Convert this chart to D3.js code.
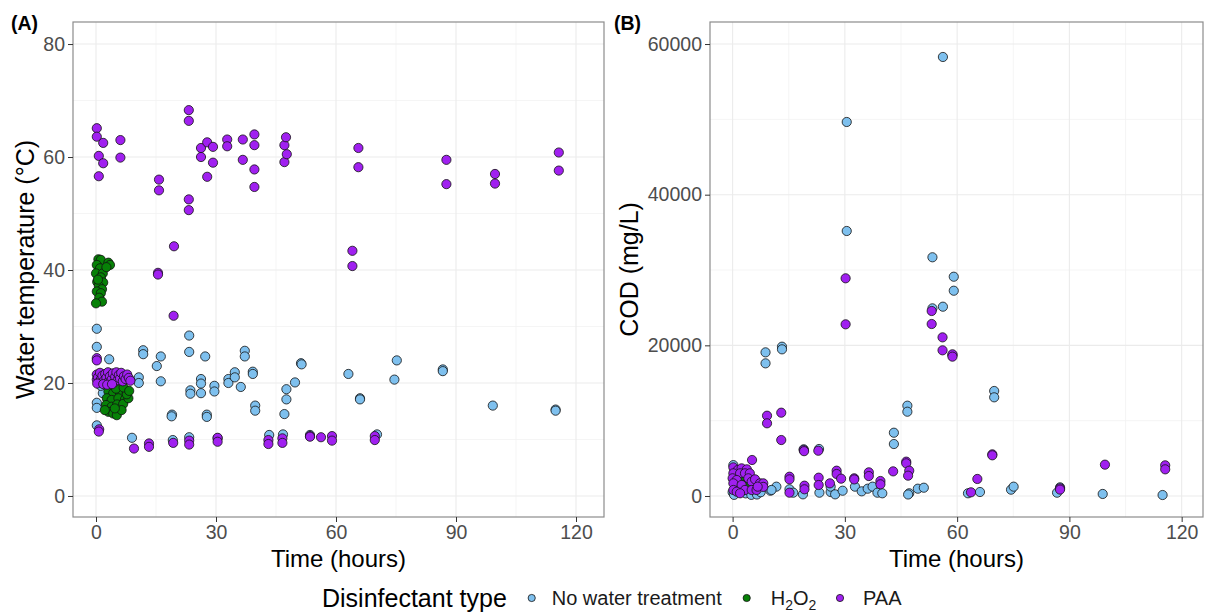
<!DOCTYPE html>
<html>
<head>
<meta charset="utf-8">
<script src="https://cdn.jsdelivr.net/npm/d3@7"></script>
<style>
  body { margin: 0; background: #fff; }
  svg { font-family: "Liberation Sans", Arial, sans-serif; }
</style>
</head>
<body>
<div id="chart"></div>
<script>
// series names + colours
const groups = ["No water treatment", "H2O2", "PAA"];
const colors = ["#7EC0EE", "#078107", "#A020F0"];

// x ticks shared by both panels
const hourTicks = [0, 30, 60, 90, 120];
const tempTicks = [0, 20, 40, 60, 80];
const codTicks = [0, 20000, 40000, 60000];

// (A) water temperature, [hours, degC]
const tempNone = [
  [0.2, 29.6], [0.2, 26.4], [3.3, 24.2], [0.2, 16.5], [0.2, 15.6], [0.2, 12.5], [1.7, 18.2], [1.2, 19.5],
  [2.5, 20.0], [0.5, 20.8], [9, 10.3], [10.7, 21.0], [10.7, 20.0], [11.8, 25.8], [11.8, 25.1], [15.2, 23.0],
  [16.2, 24.7], [16.2, 20.3], [19.0, 14.4], [18.9, 14.1], [19.2, 9.9], [23.3, 28.4], [23.3, 25.5], [23.3, 10.4],
  [23.6, 18.7], [23.6, 18.1], [26.25, 20.7], [26.25, 19.9], [26.25, 18.2], [27.3, 24.7], [27.7, 14.4], [27.7, 14.0],
  [29.6, 19.5], [29.6, 18.5], [30.4, 10.2], [33.1, 20.7], [33.1, 20.0], [34.7, 21.9], [34.7, 21.0], [36.2, 19.3],
  [37.2, 25.7], [37.2, 24.7], [39.2, 22.0], [39.2, 21.6], [39.8, 16.0], [39.8, 15.1], [43.3, 10.8], [46.75, 10.9],
  [47.1, 14.5], [47.6, 18.9], [47.6, 17.1], [49.75, 20.1], [51.25, 23.5], [51.4, 23.3], [53.5, 10.8], [63.1, 21.6],
  [66, 17.3], [66, 17.1], [70.25, 10.9], [74.6, 20.6], [75.2, 24.0], [86.7, 22.4], [86.7, 22.1], [99.2, 16.0],
  [114.9, 15.3], [114.9, 15.1]
];
const tempH2O2 = [
  [0.6, 41.9], [1.2, 41.8], [3.1, 41.3], [3.5, 40.9], [0.2, 40.9], [1.0, 40.3], [0.0, 39.4], [1.7, 39.4],
  [1.2, 38.7], [0.3, 37.9], [1.8, 37.8], [0.7, 37.2], [1.5, 36.6], [0.2, 36.2], [1.2, 35.9], [0.8, 35.1],
  [1.5, 34.4], [0.0, 34.1], [2.6, 40.5], [0.5, 38.3],
  [3.1, 18.5], [4.3, 18.2], [6.0, 18.3], [7.7, 18.2], [2.7, 17.3], [3.9, 17.0], [5.6, 17.3], [7.25, 17.1],
  [2.5, 16.1], [3.9, 15.8], [5.3, 16.2], [6.8, 16.3], [8.1, 17.3], [3.1, 14.9], [4.3, 14.6], [5.2, 14.3],
  [6.4, 15.2], [7.7, 18.0], [5.0, 19.0], [6.9, 19.2], [8.3, 18.6], [4.7, 15.5], [2.2, 15.2]
];
const tempPAA = [
  [0.2, 65.1], [0.2, 63.6], [1.8, 62.5], [0.7, 60.2], [1.8, 58.9], [0.7, 56.6], [6.1, 63.0], [6.1, 59.9],
  [15.75, 56.0], [15.75, 54.1], [23.2, 68.3], [23.2, 66.4], [23.2, 52.5], [23.2, 50.6], [19.5, 44.2], [26.25, 61.6],
  [26.25, 60.0], [27.8, 62.6], [27.8, 56.5], [29.25, 61.8], [29.25, 59.0], [32.8, 63.1], [32.8, 61.9], [36.7, 63.1],
  [36.7, 59.5], [39.6, 64.0], [39.6, 62.1], [39.6, 57.8], [39.6, 54.7], [47.1, 62.1], [47.1, 59.1], [47.5, 63.5],
  [47.7, 60.5], [65.6, 61.6], [65.6, 58.2], [87.6, 59.5], [87.6, 55.2], [99.75, 57.0], [99.75, 55.3], [115.7, 60.8],
  [115.7, 57.6], [15.5, 39.5], [15.5, 39.2], [19.4, 31.9], [64.1, 43.4], [64.1, 40.7], [0.2, 24.4], [0.2, 24.0],
  [0.8, 11.8], [0.7, 11.4],
  [0.2, 21.5], [0.2, 20.6], [0.5, 21.0], [0.8, 20.2], [1.0, 21.8], [1.3, 20.7], [1.6, 21.3], [2.0, 20.4],
  [2.3, 21.6], [2.6, 20.9], [3.0, 21.9], [3.2, 20.3], [3.5, 21.2], [3.9, 20.6], [4.2, 21.7], [4.5, 20.1],
  [4.8, 21.1], [5.1, 21.9], [5.4, 20.5], [5.7, 21.4], [6.0, 20.8], [6.3, 21.8], [6.7, 20.3], [7.0, 21.2],
  [7.4, 20.7], [7.8, 21.5], [8.2, 20.9], [8.6, 20.4], [0.3, 19.9], [1.8, 19.8], [2.8, 19.7], [4.0, 19.8],
  [9.5, 8.4], [13.25, 9.3], [13.25, 8.7], [19.3, 9.4], [23.3, 9.8], [23.3, 9.1], [30.4, 10.3], [30.4, 9.6],
  [43.1, 9.9], [43.1, 9.2], [46.6, 10.2], [46.6, 9.4], [53.5, 10.6], [53.5, 10.5], [56.25, 10.4], [59, 10.6],
  [59, 9.8], [69.7, 10.6], [69.7, 9.9]
];

// (B) COD, [hours, mg/L]
const codNone = [
  [56.2, 58280], [30.5, 49650], [30.5, 35180], [53.4, 31690], [59.1, 29110], [59.1, 27250], [53.4, 24910], [56.2, 25130],
  [58.75, 18700], [8.8, 19070], [8.8, 17610], [13.2, 19820], [13.2, 19470], [69.9, 13940], [69.9, 13100], [46.7, 11990],
  [46.7, 11190], [43.1, 8400], [43.1, 6900], [23.1, 6240], [19, 6200],
  [10.1, 700], [11.7, 1240], [10.4, 800], [15.2, 890], [16.2, 440], [18.8, 220], [23.2, 440], [26.2, 530],
  [26.2, 1240], [27.4, 220], [29.4, 700], [32.7, 1240], [34.5, 620], [36.1, 970], [37.4, 1240], [38.7, 440],
  [40, 360], [47.2, 360], [46.9, 200], [49.5, 970], [51.1, 1100], [62.9, 360], [66.1, 530], [74.4, 840],
  [75.1, 1240], [86.7, 440], [87.5, 1150], [98.9, 270], [114.9, 130],
  [0.2, 4100], [0, 500], [0.5, 3300], [1.5, 2600], [2.5, 1200], [0.4, 150], [3.5, 350], [5, 150],
  [6.5, 200], [7.5, 500], [1, 900]
];
const codH2O2 = [
  [1.5, 2000], [2.0, 1700], [2.5, 2200], [3.3, 2100], [1.0, 1500], [3.0, 1800], [2.2, 2500], [4, 1600]
];
const codPAA = [
  [30.2, 28900], [53.2, 24560], [53.2, 22830], [30.2, 22790], [56.1, 21060], [56.1, 19340], [58.75, 18810], [58.75, 18500],
  [9.2, 10660], [9.2, 9650], [13, 11060], [13, 7430], [22.9, 6010], [19, 6100], [19.1, 5950], [69.4, 5530],
  [69.4, 5400], [99.5, 4160], [115.6, 4070], [115.6, 3540], [46.4, 4560], [46.4, 4340], [47.2, 3360], [46.9, 2700],
  [42.9, 3270], [65.4, 2260], [27.8, 3360], [27.8, 2920], [29, 2300], [32.5, 2350], [32.5, 2200], [36.4, 3140],
  [36.4, 2650], [39.5, 1990], [39.5, 1550], [23, 2430], [23, 1460], [26, 1680], [19.2, 1370], [19.2, 890],
  [15.2, 2560], [15.2, 2210], [15.2, 440], [5.2, 4780], [87.5, 1020], [87.5, 850], [63.7, 490],
  [0.2, 3800], [1.4, 3450], [2.4, 3670], [3.8, 3540], [0.2, 3010], [2, 3010], [3.3, 3010], [4.6, 3010],
  [0, 2350], [1.1, 2120], [4.2, 2350], [5.1, 1900], [6, 2210], [0.2, 1680], [2.4, 1460], [3.3, 800],
  [5.1, 800], [6.4, 800], [7.3, 1680], [8.2, 1680], [0.2, 800], [1.1, 570], [8.2, 1210], [6.7, 1240],
  [2, 360]
];

const W = 1206, H = 613;

const svg = d3.select("#chart").append("svg")
  .attr("width", W).attr("height", H);

function drawPanel(p) {
  const x = d3.scaleLinear().domain(p.xDomain).range([p.left, p.right]);
  const y = d3.scaleLinear().domain(p.yDomain).range([p.bottom, p.top]);
  const g = svg.append("g");

  // minor + major grid
  g.selectAll(".xminor").data(p.xMinor).join("line")
    .attr("x1", d => x(d)).attr("x2", d => x(d))
    .attr("y1", p.top).attr("y2", p.bottom)
    .attr("stroke", "#F2F2F2").attr("stroke-width", 0.8);
  g.selectAll(".yminor").data(p.yMinor).join("line")
    .attr("y1", d => y(d)).attr("y2", d => y(d))
    .attr("x1", p.left).attr("x2", p.right)
    .attr("stroke", "#F2F2F2").attr("stroke-width", 0.8);
  g.selectAll(".xmajor").data(hourTicks).join("line")
    .attr("x1", d => x(d)).attr("x2", d => x(d))
    .attr("y1", p.top).attr("y2", p.bottom)
    .attr("stroke", "#EBEBEB").attr("stroke-width", 1.1);
  g.selectAll(".ymajor").data(p.yTicks).join("line")
    .attr("y1", d => y(d)).attr("y2", d => y(d))
    .attr("x1", p.left).attr("x2", p.right)
    .attr("stroke", "#EBEBEB").attr("stroke-width", 1.1);

  // points, in group order
  p.series.forEach((s, i) => {
    g.append("g").selectAll("circle").data(s).join("circle")
      .attr("cx", d => x(d[0]))
      .attr("cy", d => y(d[1]))
      .attr("r", 4.6)
      .attr("fill", colors[i])
      .attr("stroke", "#111")
      .attr("stroke-width", 0.8);
  });

  g.append("rect")
    .attr("x", p.left).attr("y", p.top)
    .attr("width", p.right - p.left).attr("height", p.bottom - p.top)
    .attr("fill", "none").attr("stroke", "#8c8c8c").attr("stroke-width", 1.2);

  const xAxis = d3.axisBottom(x).tickValues(hourTicks).tickSize(5).tickPadding(3);
  const xg = g.append("g").attr("transform", "translate(0," + p.bottom + ")").call(xAxis);
  const yAxis = d3.axisLeft(y).tickValues(p.yTicks).tickSize(5).tickPadding(3).tickFormat(d3.format("d"));
  const yg = g.append("g").attr("transform", "translate(" + p.left + ",0)").call(yAxis);
  [xg, yg].forEach(a => {
    a.select(".domain").remove();
    a.selectAll(".tick line").attr("stroke", "#333");
    a.selectAll(".tick text").attr("fill", "#4D4D4D")
      .style("font-size", "19.5px").style("font-family", "Liberation Sans, Arial, sans-serif");
  });

  g.append("text")
    .attr("x", (p.left + p.right) / 2).attr("y", 567)
    .attr("text-anchor", "middle").style("font-size", "24px")
    .text("Time (hours)");

  g.append("text")
    .attr("transform", "translate(" + p.yTitleX + "," + (p.top + p.bottom) / 2 + ") rotate(-90)")
    .attr("text-anchor", "middle").style("font-size", "25px")
    .text(p.yTitle);

  g.append("text")
    .attr("x", p.tagX).attr("y", 30)
    .style("font-size", "19.5px").style("font-weight", "bold")
    .text(p.tag);
}

drawPanel({
  left: 73, right: 604, top: 22, bottom: 517,
  xDomain: [-5.75, 127], yDomain: [-3.72, 83.9],
  xMinor: [15, 45, 75, 105], yTicks: tempTicks, yMinor: [10, 30, 50, 70],
  series: [tempNone, tempH2O2, tempPAA],
  yTitle: "Water temperature (°C)", yTitleX: 34, tag: "(A)", tagX: 11
});

drawPanel({
  left: 710, right: 1203, top: 22, bottom: 517,
  xDomain: [-6.04, 125.7], yDomain: [-2788, 62923],
  xMinor: [15, 45, 75, 105], yTicks: codTicks, yMinor: [10000, 30000, 50000],
  series: [codNone, codH2O2, codPAA],
  yTitle: "COD (mg/L)", yTitleX: 638, tag: "(B)", tagX: 614
});

// legend
const legend = svg.append("g");
legend.append("text").attr("x", 322).attr("y", 607)
  .style("font-size", "25px").text("Disinfectant type");

const keyX = [531.7, 746.7, 840];
const labelX = [551.7, 770.7, 863];
groups.forEach((name, i) => {
  legend.append("circle")
    .attr("cx", keyX[i]).attr("cy", 598).attr("r", 3.6)
    .attr("fill", colors[i]).attr("stroke", "#111").attr("stroke-width", 0.8);
  const t = legend.append("text").attr("x", labelX[i]).attr("y", 605)
    .style("font-size", "20px").attr("fill", "#1a1a1a");
  if (name === "H2O2") {
    t.append("tspan").text("H");
    t.append("tspan").attr("dy", 5).style("font-size", "14px").text("2");
    t.append("tspan").attr("dy", -5).text("O");
    t.append("tspan").attr("dy", 5).style("font-size", "14px").text("2");
  } else {
    t.text(name);
  }
});
</script>
</body>
</html>
